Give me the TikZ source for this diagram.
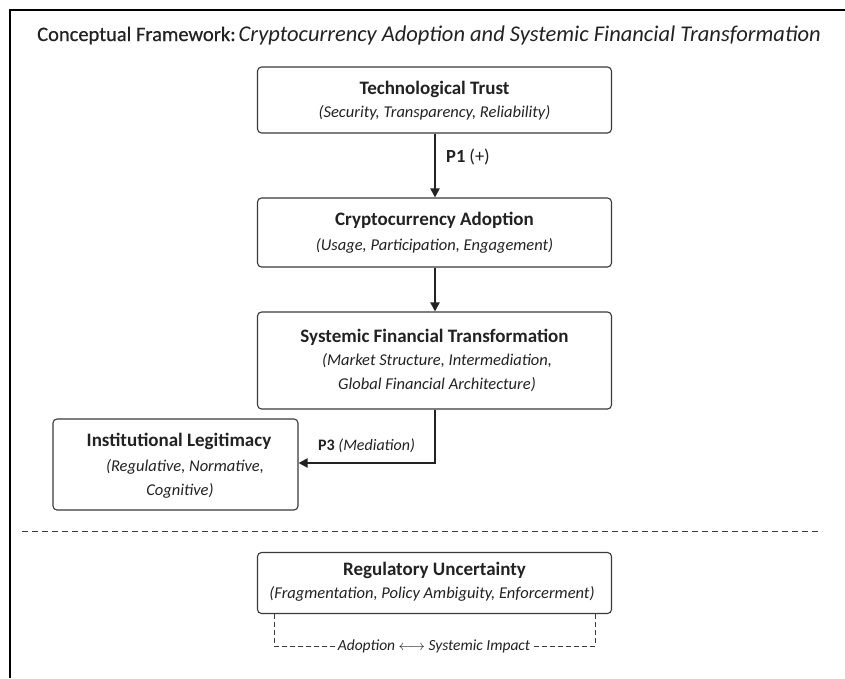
\documentclass[tikz,border=0pt]{standalone}
\usepackage{fontspec}
\setmainfont{Carlito}
\newfontfamily\titlefont[FakeBold=0.5]{Carlito}
\usetikzlibrary{arrows.meta}
\definecolor{ink}{HTML}{222222}
\definecolor{edge}{HTML}{3A3A3A}
\tikzset{
  box/.style={draw=edge, line width=1.1pt, rounded corners=4pt, fill=white},
  head/.style={font=\fontsize{19}{22}\selectfont\bfseries, text=ink, anchor=center, inner sep=0pt},
  sub/.style={font=\fontsize{16.5}{20}\selectfont\itshape, text=ink, anchor=center, inner sep=0pt},
  flow/.style={draw=ink, line width=2pt, -{Triangle[length=9pt,width=9pt]}},
  lab/.style={font=\fontsize{16}{19}\selectfont, text=ink, anchor=west, inner sep=0pt},
  dashline/.style={draw=edge, line width=0.8pt, dash pattern=on 6pt off 4pt},
}
\begin{document}
\begin{tikzpicture}[x=1pt, y=-1pt]
  \useasboundingbox (0,0) rectangle (845,678);
  \fill[white] (0,0) rectangle (845,678);
  % outer frame (top and left edges)
  \draw[black, line width=2pt] (845,10) -- (10,10) -- (10,678);

  % title
  \node[anchor=base west, inner sep=0pt, text=ink] (title) at (37,41)
    {{\titlefont\fontsize{20.5}{24}\selectfont Conceptual Framework:}\hspace{3pt}\fontsize{22.5}{24}\selectfont\itshape Cryptocurrency Adoption and Systemic Financial Transformation};

  % boxes
  \node[box, minimum width=354pt, minimum height=66pt] (trust) at (434.5,100) {};
  \node[head] at (434.5,89) {Technological Trust};
  \node[sub] at (434.5,113) {(Security, Transparency, Reliability)};

  \node[box, minimum width=354pt, minimum height=69pt] (adopt) at (434.5,232.5) {};
  \node[head] at (434.5,220) {Cryptocurrency Adoption};
  \node[sub] at (434.5,246) {(Usage, Participation, Engagement)};

  \node[box, minimum width=354pt, minimum height=97pt] (sft) at (434.5,360.5) {};
  \node[head] at (434.5,337) {Systemic Financial Transformation};
  \node[sub] at (437,361) {(Market Structure, Intermediation,};
  \node[sub] at (437,385) {Global Financial Architecture)};

  \node[box, minimum width=245pt, minimum height=91pt] (legit) at (175.5,464.5) {};
  \node[head] at (179,441) {Institutional Legitimacy};
  \node[sub] at (185,467) {(Regulative, Normative,};
  \node[sub] at (180,491) {Cognitive)};

  \node[box, minimum width=354pt, minimum height=61pt] (reg) at (434.5,583) {};
  \node[head] at (434.5,570) {Regulatory Uncertainty};
  \node[sub] at (432,594) {(Fragmentation, Policy Ambiguity, Enforcerment)};

  % connectors
  \coordinate (t1) at (trust.south -| 435,0);
  \coordinate (a1) at (adopt.north -| 435,0);
  \coordinate (a2) at (adopt.south -| 435,0);
  \coordinate (s1) at (sft.north -| 435,0);
  \coordinate (s2) at (sft.south -| 435,0);
  \coordinate (bend) at (435,463);
  \draw[flow] (t1) -- (a1);
  \node[lab, font=\fontsize{18.5}{20}\selectfont] (p1) at (446,157) {\textbf{P1}\hspace{4pt}(+)};
  \draw[flow] (a2) -- (s1);
  \draw[flow] (s2) -- (bend) -- (legit.east |- bend);
  \node[lab] (p3) at (318,446) {\textbf{P3} \textit{(Mediation)}};

  % separator
  \coordinate (sepL) at (22,531);
  \coordinate (sepR) at (822,531);
  \draw[dashline] (sepL) -- (sepR);

  % moderating bracket
  \node[font=\fontsize{15.5}{18}\selectfont\itshape, text=ink, inner sep=3pt] (mod) at (434,646)
    {Adoption $\longleftrightarrow$ Systemic Impact};
  \coordinate (bl) at (reg.south -| 274,0);
  \coordinate (br) at (reg.south -| 595,0);
  \draw[dashline, dash pattern=on 5pt off 3pt] (bl) -- (bl |- mod) -- (mod.west);
  \draw[dashline, dash pattern=on 5pt off 3pt] (br) -- (br |- mod) -- (mod.east);
\end{tikzpicture}
\end{document}
